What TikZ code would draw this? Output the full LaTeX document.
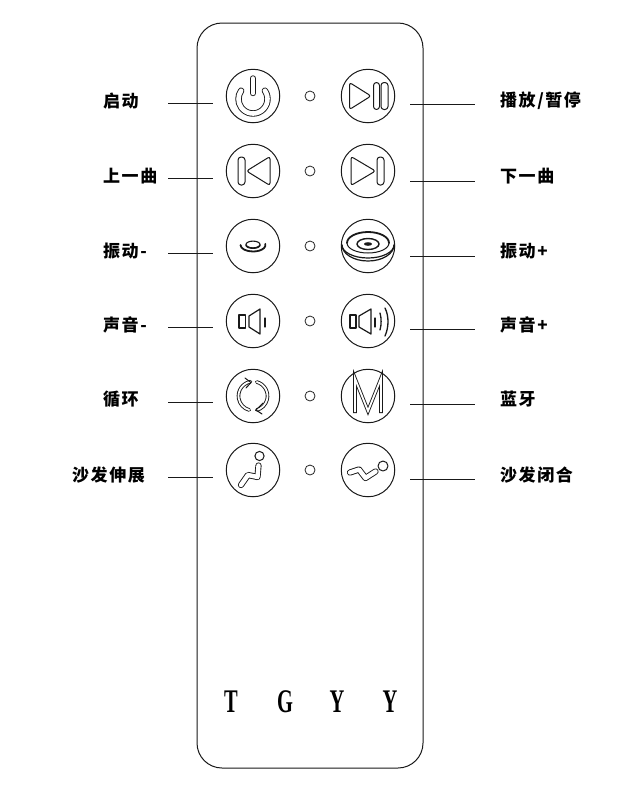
\documentclass[tikz,border=0pt]{standalone}
\usepackage{fontspec}
\newfontfamily\cjk[LetterSpace=9]{Noto Sans CJK SC}
\setmainfont{Liberation Serif}
\newcommand{\outlined}[2]{%
  \draw[line width=#1pt+1.8pt,draw=black!90,line cap=round,line join=round] #2;
  \draw[line width=#1pt,draw=white,line cap=round,line join=round] #2;}
\tikzset{
  base/.style={line width=1pt,line join=round,line cap=round,draw=black!90},
  btn/.style={circle,draw=black!90,line width=1pt,minimum size=53.5pt,inner sep=0pt},
  led/.style={circle,draw=black!85,line width=.8pt,minimum size=10pt,inner sep=0pt},
  lbl/.style={font=\cjk\bfseries\fontsize{17pt}{18pt}\selectfont,inner sep=0pt,anchor=west},
  brand/.style={font=\bfseries\fontsize{33pt}{33pt}\selectfont,inner sep=0pt},
  leader/.style={line width=.8pt,draw=black!90},
  thickstroke/.style={line width=1.4pt,line cap=round,draw=black!90}
}
\begin{document}
\begin{tikzpicture}[x=1pt,y=1pt,yscale=-1]
\useasboundingbox (0,0) rectangle (642,812);
\fill[white] (0,0) rectangle (642,812);
\draw[line width=1pt,draw=black!90,rounded corners=25pt] (197,23) rectangle (423,768);
% leaders + labels
\foreach \n/\ly/\ty/\tx/\t in {a/103/101/103/启动,b/178/176/103/上一曲,c/253/251/103/振动-,d/327/325/103/声音-,e/402/399/103/循环,f/477/475/72/沙发伸展}{
  \coordinate (\n1) at (168,\ly); \coordinate (\n2) at (213,\ly);
  \draw[leader] (\n1) -- (\n2);
  \node[lbl] (L\n) at (\tx,\ty) {\t};
}
\foreach \n/\ly/\ty/\t in {g/104/101/{播放/暂停},h/181/176/下一曲,i/256/251/振动+,j/329/325/声音+,k/404/399/蓝牙,l/479/475/沙发闭合}{
  \coordinate (\n1) at (410,\ly); \coordinate (\n2) at (475,\ly);
  \draw[leader] (\n1) -- (\n2);
  \node[lbl] (L\n) at (500,\ty) {\t};
}
% buttons and LEDs
\foreach \i/\y in {1/96,2/171,3/246,4/321,5/396,6/470}{
  \node[btn] (bl\i) at (253,\y) {};
  \node[btn] (br\i) at (368,\y) {};
  \node[led] (led\i) at (310,\y) {};
}
% power
\begin{scope}[shift={(bl1.center)}]
  \outlined{4.6}{(-35:14.5) ++(0,3) arc[start angle=-35,end angle=215,radius=14.5]}
  \outlined{4.6}{(0,-17.5) -- (0,-3)}
\end{scope}
% play/pause
\begin{scope}[shift={(br1.center)}]
  \draw[base,rounded corners=2.5pt] (-18.5,-13.5) -- (3,0) -- (-18.5,13.5) -- cycle;
  \draw[base,rounded corners=3pt] (5.5,-13.5) rectangle (11.5,13.5);
  \draw[base,rounded corners=3pt] (13,-13.5) rectangle (20,13.5);
\end{scope}
% previous
\begin{scope}[shift={(bl2.center)}]
  \draw[base,rounded corners=3pt] (-15,-14) rectangle (-8,14);
  \draw[base,rounded corners=2.5pt] (-6.5,0) -- (17,-14.5) -- (17,14.5) -- cycle;
\end{scope}
% next
\begin{scope}[shift={(br2.center)}]
  \draw[base,rounded corners=2.5pt] (-17,-14.5) -- (7.5,0) -- (-17,14.5) -- cycle;
  \draw[base,rounded corners=3pt] (9,-14) rectangle (16,14);
\end{scope}
% vibration -
\begin{scope}[shift={(bl3.center)}]
  \draw[base,line width=1.1pt] (0,-1.5) ellipse (7 and 3.4);
  \draw[base,line width=1.5pt] (-7,-1) arc[start angle=180,end angle=0,x radius=7,y radius=3.2];
  \draw[thickstroke,line width=1.8pt] (-12.5,-1) arc[start angle=180,end angle=-10,x radius=12.5,y radius=6.5];
\end{scope}
% vibration +
\begin{scope}[shift={(br3.center)}]
  \fill[black!90] (0,-2) ellipse (4 and 1.8);
  \draw[thickstroke] (0,-2) ellipse (11 and 5.5);
  \draw[base] (-21,-3) arc[start angle=180,end angle=0,x radius=21,y radius=10];
  \draw[thickstroke,line width=1.8pt] (-21,-3) arc[start angle=180,end angle=360,x radius=21,y radius=11];
  \draw[base,line width=1.2pt] (-26,-1) arc[start angle=180,end angle=0,x radius=26,y radius=13];
  \draw[base,line width=1.2pt] (-26,-1) arc[start angle=180,end angle=0,x radius=26,y radius=16];
\end{scope}
% speaker -
\begin{scope}[shift={(bl4.center)}]
  \draw[base,line width=1.4pt] (-14,-6) rectangle (-7.5,7);
  \draw[base,line width=1.2pt] (-4,-5) -- (7,-12) -- (7,13) -- (-4,6) -- cycle;
  \draw[base,line width=1.3pt] (12,-3) -- (12,6);
\end{scope}
% speaker +
\begin{scope}[shift={(br4.center)}]
  \draw[base,line width=1.4pt] (-18,-6) rectangle (-12,7);
  \draw[base,line width=1.2pt] (-9,-5) -- (3,-12) -- (3,13) -- (-9,6) -- cycle;
  \draw[base,line width=1.3pt] (7,-3) -- (7,6);
  \draw[base,line width=1.3pt] (12,-8) .. controls (13.5,-3) and (13.5,4) .. (12,9);
  \draw[base,line width=1.3pt] (17,-13) .. controls (21,-5) and (21,6) .. (17,15);
\end{scope}
% cycle
\begin{scope}[shift={(bl5.center)}]
  \outlined{1.8}{(-100:14.5) arc[start angle=-100,end angle=-255,radius=14.5]}
  \outlined{1.8}{(-75:14.5) arc[start angle=-75,end angle=75,radius=14.5]}
  \draw[base] (-8,-18) -- (-2,-13.5) -- (-7,-8);
  \draw[base] (10,7) -- (3,14) -- (9,18);
\end{scope}
% M
\begin{scope}[shift={(br5.center)}]
  \draw[line width=3.6pt,draw=black!90,line join=miter] (-13,17) -- (-13,-17.5) -- (0,15) -- (13,-17.5) -- (13,17);
  \draw[line width=1.8pt,draw=white,line join=miter] (-13,16.1) -- (-13,-17.5) -- (0,15) -- (13,-17.5) -- (13,16.1);
\end{scope}
% sofa extend
\begin{scope}[shift={(bl6.center)}]
  \draw[base] (6.5,-14) circle (4.6);
  \outlined{4.4}{(5.5,-4.5) -- (4.5,7) -- (-5,5) -- (-12,15)}
\end{scope}
% sofa close
\begin{scope}[shift={(br6.center)}]
  \draw[base] (15,-4) circle (5);
  \outlined{4.4}{(-18,2.5) -- (-9,-.5) -- (-2.5,8) -- (7.5,1.5)}
\end{scope}
% brand
\foreach \n/\x/\t in {t1/231/T,t2/285/G,t3/337/Y,t4/390/Y}{
  \node[brand] (\n) at (\x,702) {\scalebox{.62}[1]{\t}};
}
\end{tikzpicture}
\end{document}
